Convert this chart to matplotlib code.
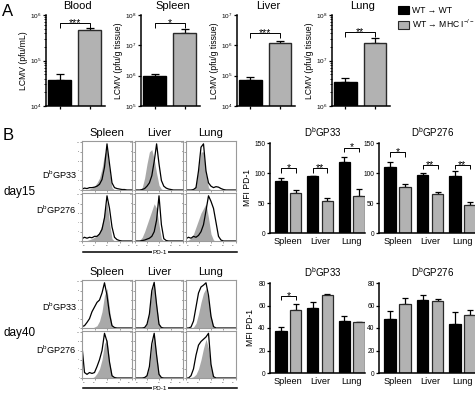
import numpy as np
import matplotlib
matplotlib.use('Agg')
import matplotlib.pyplot as plt
from matplotlib.transforms import blended_transform_factory
from matplotlib.ticker import LogLocator, NullFormatter, FixedLocator
from matplotlib.patches import Patch
from matplotlib.lines import Line2D

plt.rcParams['font.family'] = ['Liberation Sans', 'DejaVu Sans']
plt.rcParams['mathtext.fontset'] = 'custom'
plt.rcParams['mathtext.rm'] = 'Liberation Sans'
plt.rcParams['mathtext.it'] = 'Liberation Sans:italic'
plt.rcParams['mathtext.bf'] = 'Liberation Sans:bold'

# ------------------------------------------------------------------ data
legend_labels = ['WT → WT', 'WT → MHC I$^{-/-}$']

# Panel A: LCMV titers (WT->WT, WT->MHC I-/-), upper error
organs_a = ['Blood', 'Spleen', 'Liver', 'Lung']
ylabels_a = ['LCMV (pfu/mL)', 'LCMV (pfu/g tissue)', 'LCMV (pfu/g tissue)', 'LCMV (pfu/g tissue)']
blood_titer = [3.7e4, 4.7e5]
blood_err = [1.3e4, 0.5e5]
spleen_titer = [9.8e5, 2.6e7]
spleen_err = [1.4e5, 0.9e7]
liver_titer = [7.2e4, 1.2e6]
liver_err = [1.9e4, 0.2e6]
lung_titer = [3.4e6, 2.4e7]
lung_err = [0.7e6, 0.7e7]
decades_a = [(4, 6), (5, 8), (4, 7), (6, 8)]
sig_a = ['***', '*', '***', '**']

# Panel B bar charts: MFI PD-1
organs_b = ['Spleen', 'Liver', 'Lung']
epitopes = ['D$^{\\mathregular{b}}$GP33', 'D$^{\\mathregular{b}}$GP276']
d15_gp33_wt = [86, 95, 118]
d15_gp33_wt_err = [6, 0.5, 8]
d15_gp33_ko = [66, 54, 61]
d15_gp33_ko_err = [5, 5, 12]
d15_gp276_wt = [110, 96, 95]
d15_gp276_wt_err = [9, 4, 8]
d15_gp276_ko = [77, 65, 47]
d15_gp276_ko_err = [5, 3, 4]
d40_gp33_wt = [37, 58, 46]
d40_gp33_wt_err = [4, 5, 5]
d40_gp33_ko = [56, 69, 45]
d40_gp33_ko_err = [5, 1.5, 0.4]
d40_gp276_wt = [48, 65, 44]
d40_gp276_wt_err = [7, 4, 10]
d40_gp276_ko = [61, 64, 52]
d40_gp276_ko_err = [6, 2, 4]
sig_d15_gp33 = ['*', '**', '*']
sig_d15_gp276 = ['*', '**', '**']
sig_d40_gp33 = ['*', '', '']

# Panel B histograms: % of max at 21 evenly spaced log10(PD-1) positions 0..4
pd1_log = np.linspace(0, 4, 21)
# day15
h15_spl_33_gray = [0, 0, 1, 2, 4, 8, 15, 25, 45, 75, 85, 40, 5, 0, 0, 0, 0, 0, 0, 0, 0]
h15_spl_33_blk = [2, 4, 3, 5, 5, 6, 8, 12, 22, 48, 97, 55, 15, 5, 3, 2, 1, 1, 0, 0, 0]
h15_liv_33_gray = [0, 0, 1, 5, 25, 55, 80, 85, 65, 35, 10, 2, 0, 0, 0, 0, 0, 0, 0, 0, 0]
h15_liv_33_blk = [0, 0, 0, 1, 3, 8, 15, 30, 60, 97, 55, 20, 8, 4, 2, 1, 0, 0, 0, 0, 0]
h15_lun_33_gray = [0, 0, 0, 2, 10, 45, 80, 80, 35, 5, 0, 0, 0, 0, 0, 0, 0, 0, 0, 0, 0]
h15_lun_33_blk = [0, 0, 0, 1, 5, 40, 90, 97, 40, 15, 8, 5, 7, 6, 3, 1, 0, 0, 0, 0, 0]
h15_spl_276_gray = [0, 0, 1, 3, 5, 8, 12, 20, 35, 60, 85, 40, 5, 0, 0, 0, 0, 0, 0, 0, 0]
h15_spl_276_blk = [5, 8, 6, 8, 7, 10, 10, 15, 25, 50, 97, 70, 30, 8, 3, 1, 0, 0, 0, 0, 0]
h15_liv_276_gray = [0, 0, 2, 8, 20, 35, 50, 65, 80, 70, 35, 5, 0, 0, 0, 0, 0, 0, 0, 0, 0]
h15_liv_276_blk = [0, 0, 0, 1, 2, 4, 6, 10, 20, 45, 97, 35, 5, 1, 0, 0, 0, 0, 0, 0, 0]
h15_lun_276_gray = [0, 2, 6, 15, 30, 45, 60, 70, 80, 50, 15, 2, 0, 0, 0, 0, 0, 0, 0, 0, 0]
h15_lun_276_blk = [5, 8, 6, 10, 8, 12, 20, 35, 65, 97, 85, 70, 40, 10, 2, 0, 0, 0, 0, 0, 0]
# day40
h40_spl_33_gray = [0, 0, 0, 0, 0, 2, 5, 15, 35, 70, 85, 40, 5, 0, 0, 0, 0, 0, 0, 0, 0]
h40_spl_33_blk = [3, 5, 12, 20, 35, 45, 55, 60, 75, 97, 70, 30, 5, 1, 0, 0, 0, 0, 0, 0, 0]
h40_liv_33_gray = [0, 0, 0, 0, 2, 10, 35, 80, 95, 50, 10, 1, 0, 0, 0, 0, 0, 0, 0, 0, 0]
h40_liv_33_blk = [0, 0, 0, 0, 1, 8, 30, 80, 98, 50, 8, 1, 0, 0, 0, 0, 0, 0, 0, 0, 0]
h40_lun_33_gray = [0, 0, 0, 2, 10, 30, 55, 75, 85, 60, 25, 3, 0, 0, 0, 0, 0, 0, 0, 0, 0]
h40_lun_33_blk = [0, 0, 2, 15, 45, 75, 88, 92, 97, 70, 25, 3, 0, 0, 0, 0, 0, 0, 0, 0, 0]
h40_spl_276_gray = [0, 0, 0, 0, 0, 3, 10, 20, 40, 75, 85, 35, 5, 0, 0, 0, 0, 0, 0, 0, 0]
h40_spl_276_blk = [70, 12, 8, 12, 10, 12, 25, 40, 60, 98, 80, 35, 5, 1, 0, 0, 0, 0, 0, 0, 0]
h40_liv_276_gray = [0, 0, 0, 1, 3, 8, 25, 70, 95, 50, 10, 1, 0, 0, 0, 0, 0, 0, 0, 0, 0]
h40_liv_276_blk = [0, 0, 0, 0, 1, 5, 25, 75, 98, 50, 8, 1, 0, 0, 0, 0, 0, 0, 0, 0, 0]
h40_lun_276_gray = [0, 0, 1, 3, 8, 20, 40, 65, 85, 65, 25, 3, 0, 0, 0, 0, 0, 0, 0, 0, 0]
h40_lun_276_blk = [0, 0, 5, 20, 50, 72, 80, 85, 90, 98, 30, 3, 0, 0, 0, 0, 0, 0, 0, 0, 0]

# ------------------------------------------------------------------ style
BLACK = '#000000'
GRAY = '#b2b2b2'
HGRAY = '#a9a9a9'
W, H = 475, 394
fig = plt.figure(figsize=(W / 100, H / 100), dpi=100)


def px_axes(l, t, r, b):
    return fig.add_axes([l / W, 1 - b / H, (r - l) / W, (b - t) / H])


def ftext(x, y, s, **kw):
    return fig.text(x / W, 1 - y / H, s, **kw)


def bracket(ax, x0, x1, yfrac, text, drop=0.045, fs=7.5):
    tr = blended_transform_factory(ax.transData, ax.transAxes)
    ax.plot([x0, x0, x1, x1], [yfrac - drop, yfrac, yfrac, yfrac - drop], transform=tr,
            color='black', lw=0.7, clip_on=False, solid_capstyle='butt')
    ax.annotate(text, xy=((x0 + x1) / 2, yfrac), xycoords=tr, xytext=(0, -2.2),
                textcoords='offset points', ha='center', va='baseline', fontsize=fs)


def style_prism(ax):
    for s in ['top', 'right']:
        ax.spines[s].set_visible(False)
    for s in ['left', 'bottom']:
        ax.spines[s].set_linewidth(1.1)


# ------------------------------------------------------------------ Panel A
a_boxes = [(46, 15, 105, 106), (141, 15, 200, 106), (237, 15, 295, 106), (332, 15, 390, 106)]
a_vals = [blood_titer, spleen_titer, liver_titer, lung_titer]
a_errs = [blood_err, spleen_err, liver_err, lung_err]
a_brk = [0.91, 0.91, 0.80, 0.81]
for box, org, vals, errs, (lo, hi), ylab, sig, bh in zip(a_boxes, organs_a, a_vals, a_errs,
                                                        decades_a, ylabels_a, sig_a, a_brk):
    ax = px_axes(*box)
    ax.set_yscale('log')
    x = np.arange(2)
    ax.bar(x, vals, width=0.76, color=[BLACK, GRAY], edgecolor=['black', '#2a2a2a'],
           linewidth=1.0, zorder=2)
    ax.errorbar(x, vals, yerr=[[0, 0], errs], fmt='none', ecolor='black', elinewidth=0.9,
                capsize=2.6, capthick=0.9, zorder=1)
    ax.set_ylim(10 ** lo, 10 ** hi)
    ax.set_xlim(-0.45, 1.5)
    ax.set_yticks([10 ** k for k in range(lo, hi + 1)])
    ax.set_yticklabels(['$10^{%d}$' % k for k in range(lo, hi + 1)], fontsize=4.6)
    ax.yaxis.set_minor_locator(LogLocator(base=10, subs=np.arange(2, 10)))
    ax.yaxis.set_minor_formatter(NullFormatter())
    ax.set_xticks(x)
    ax.set_xticklabels([])
    ax.tick_params(axis='both', which='major', length=2.2, width=0.9, pad=1)
    ax.tick_params(axis='y', which='minor', length=1.2, width=0.6)
    style_prism(ax)
    ax.set_ylabel(ylab, fontsize=6.2, labelpad=1.5)
    ftext((box[0] + box[2]) / 2 + 2, 6, org, ha='center', va='center', fontsize=8)
    bracket(ax, 0, 1, bh, sig, drop=0.05)

fig.legend(handles=[Patch(facecolor=BLACK, edgecolor='black', lw=0.8),
                    Patch(facecolor=GRAY, edgecolor='#2a2a2a', lw=0.8)],
           labels=legend_labels, loc='upper left', bbox_to_anchor=(398 / W, 1 - 6 / H),
           frameon=False, fontsize=6.2, handlelength=1.3, handleheight=1.05,
           handletextpad=0.35, labelspacing=0.25, borderpad=0, borderaxespad=0)

ftext(2, 11, 'A', fontsize=12, ha='left', va='center')
ftext(3, 136, 'B', fontsize=12, ha='left', va='center')

# ------------------------------------------------------------------ Panel B histograms
cols_x = [(82, 132), (135, 183), (186, 236)]
rows15 = [(141, 190), (193, 241)]
rows40 = [(280, 328), (331, 378)]
hist15 = [[(h15_spl_33_gray, h15_spl_33_blk), (h15_liv_33_gray, h15_liv_33_blk), (h15_lun_33_gray, h15_lun_33_blk)],
          [(h15_spl_276_gray, h15_spl_276_blk), (h15_liv_276_gray, h15_liv_276_blk), (h15_lun_276_gray, h15_lun_276_blk)]]
hist40 = [[(h40_spl_33_gray, h40_spl_33_blk), (h40_liv_33_gray, h40_liv_33_blk), (h40_lun_33_gray, h40_lun_33_blk)],
          [(h40_spl_276_gray, h40_spl_276_blk), (h40_liv_276_gray, h40_liv_276_blk), (h40_lun_276_gray, h40_lun_276_blk)]]
pd1 = 10 ** pd1_log


def hist_block(rows, data, title_y, day_y, day_label, row_label_y, line_y):
    for r, (t, b) in enumerate(rows):
        for c, (l, rr) in enumerate(cols_x):
            ax = px_axes(l, t, rr, b)
            g, k = data[r][c]
            ax.fill_between(pd1, 0, g, color=HGRAY, lw=0, zorder=1)
            ax.plot(pd1, k, color='black', lw=0.9, zorder=2)
            ax.set_xscale('log')
            ax.set_xlim(1, 1e4)
            ax.set_ylim(0, 103)
            ax.xaxis.set_major_locator(FixedLocator([1, 10, 100, 1000, 1e4]))
            ax.xaxis.set_minor_locator(FixedLocator([]))
            if r == 1:
                labs = ax.set_xticklabels(['$10^{%d}$' % i for i in range(5)], fontsize=1.2)
                labs[0].set_ha('left')
                labs[-1].set_ha('right')
            else:
                ax.set_xticklabels([])
            ax.set_yticks([0, 20, 40, 60, 80, 100])
            ax.set_yticklabels(['0', '20', '40', '60', '80', '100'], fontsize=1.4)
            ax.tick_params(length=1.2, width=0.4, pad=0.3, colors='#555555')
            for s in ax.spines.values():
                s.set_color('#9a9a9a')
                s.set_linewidth(0.8)
    for c, (l, rr) in enumerate(cols_x):
        ftext((l + rr) / 2, title_y, organs_b[c], ha='center', va='center', fontsize=8)
    for r in range(2):
        ftext(77, row_label_y[r], epitopes[r], ha='right', va='center', fontsize=6.6)
    ftext(4, day_y, day_label, ha='left', va='center', fontsize=8.5)
    fig.add_artist(Line2D([83 / W, 237 / W], [1 - line_y / H, 1 - line_y / H], color='black', lw=1.1))
    ftext(160, line_y, 'PD-1', ha='center', va='center', fontsize=4.6,
          bbox=dict(facecolor='white', edgecolor='none', pad=0.5))


hist_block(rows15, hist15, 133, 192, 'day15', (175, 210), 252)
hist_block(rows40, hist40, 272, 333, 'day40', (307, 350), 388)

# ------------------------------------------------------------------ Panel B bar charts
def mfi_chart(box, wt, wt_e, ko, ko_e, ymax, step, title, ylabel, sigs, brk):
    ax = px_axes(*box)
    x = np.arange(3)
    off, w = 0.23, 0.36
    ax.bar(x - off, wt, width=w, color=BLACK, edgecolor='black', lw=0.9, zorder=2)
    ax.bar(x + off, ko, width=w, color=GRAY, edgecolor='#2a2a2a', lw=0.9, zorder=2)
    ax.errorbar(x - off, wt, yerr=[np.zeros(3), wt_e], fmt='none', ecolor='black',
                elinewidth=0.9, capsize=2.3, capthick=0.9, zorder=1)
    ax.errorbar(x + off, ko, yerr=[np.zeros(3), ko_e], fmt='none', ecolor='black',
                elinewidth=0.9, capsize=2.3, capthick=0.9, zorder=1)
    ax.set_ylim(0, ymax)
    ax.set_xlim(-0.58, 2.42)
    ax.set_yticks(np.arange(0, ymax + 1, step))
    ax.tick_params(axis='y', labelsize=4.8, length=2.2, width=0.9, pad=1)
    ax.set_xticks(x)
    ax.set_xticklabels(organs_b, fontsize=6.6)
    ax.tick_params(axis='x', length=0, pad=3)
    style_prism(ax)
    if ylabel:
        ax.set_ylabel('MFI PD-1', fontsize=6.2, labelpad=2)
    ftext((box[0] + box[2]) / 2 + 5, box[1] - 11, title, ha='center', va='center', fontsize=7)
    for i, s in enumerate(sigs):
        if s:
            bracket(ax, i - off, i + off, brk[i], s, drop=0.05)
    return ax


mfi_chart((270, 143, 365, 233), d15_gp33_wt, d15_gp33_wt_err, d15_gp33_ko, d15_gp33_ko_err,
          150, 50, epitopes[0], True, sig_d15_gp33, [0.72, 0.72, 0.95])
mfi_chart((379, 143, 476, 233), d15_gp276_wt, d15_gp276_wt_err, d15_gp276_ko, d15_gp276_ko_err,
          150, 50, epitopes[1], False, sig_d15_gp276, [0.90, 0.76, 0.76])
mfi_chart((270, 283, 365, 373), d40_gp33_wt, d40_gp33_wt_err, d40_gp33_ko, d40_gp33_ko_err,
          80, 20, epitopes[0], True, sig_d40_gp33, [0.86, 0, 0])
mfi_chart((379, 283, 476, 373), d40_gp276_wt, d40_gp276_wt_err, d40_gp276_ko, d40_gp276_ko_err,
          80, 20, epitopes[1], False, ['', '', ''], [0, 0, 0])

fig.savefig('out.png', dpi=100)
